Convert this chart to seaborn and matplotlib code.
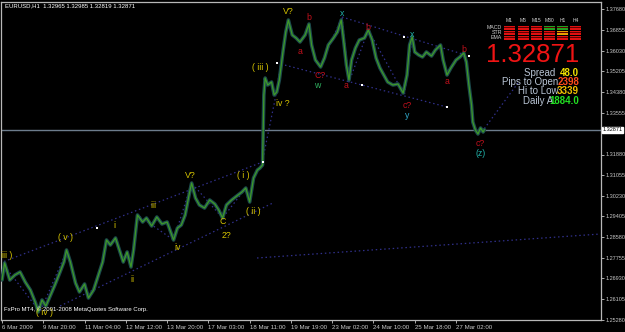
import numpy as np
import pandas as pd
import matplotlib
matplotlib.use("Agg")
import matplotlib.pyplot as plt
import seaborn as sns
from matplotlib.patches import Rectangle

# ---------------- data (bar index, close price) ----------------
bars = [0, 2, 6, 10, 14, 18, 22, 26, 28, 31, 34, 37, 41, 45, 48, 50, 53, 57, 60, 64,
        67, 71, 74, 78, 81, 84, 88, 91, 94, 97, 100, 102, 105, 109, 112, 116, 120, 124, 128, 133,
        136, 139, 142, 145, 147, 150, 153, 157, 161, 165, 168, 171, 174, 178, 182, 186, 189, 192, 195, 198,
        200, 202, 203, 204, 206, 209, 211, 213, 215, 218, 220, 222, 225, 228, 231, 235, 238, 240, 243, 247,
        250, 253, 257, 260, 263, 265, 267, 269, 271, 274, 277, 281, 284, 287, 290, 293, 296, 299, 303, 307,
        311, 314, 316, 318, 320, 323, 326, 329, 333, 336, 340, 342, 345, 348, 352, 355, 358, 360, 362, 364,
        365, 367, 369, 371, 373, 374]
close = [1.2686, 1.2754, 1.2686, 1.2706, 1.2718, 1.2678, 1.2646, 1.2594, 1.2558, 1.2606,
         1.2582, 1.2618, 1.2666, 1.2718, 1.2758, 1.2806, 1.2758, 1.2674, 1.2638, 1.2670,
         1.2614, 1.2646, 1.2694, 1.2758, 1.2846, 1.2826, 1.2854, 1.2806, 1.2758, 1.2798,
         1.2738, 1.2806, 1.2946, 1.2918, 1.2934, 1.2902, 1.2938, 1.2910, 1.2918, 1.2846,
         1.2894, 1.2906, 1.2946, 1.3026, 1.3074, 1.3014, 1.2986, 1.2974, 1.3006, 1.2990,
         1.2966, 1.2934, 1.2986, 1.3006, 1.3022, 1.3038, 1.3054, 1.2998, 1.3094, 1.3126,
         1.3134, 1.3146, 1.3426, 1.3494, 1.3466, 1.3478, 1.3426, 1.3438, 1.3486, 1.3606,
         1.3678, 1.3726, 1.3666, 1.3654, 1.3638, 1.3666, 1.3710, 1.3626, 1.3566, 1.3538,
         1.3574, 1.3626, 1.3654, 1.3678, 1.3726, 1.3638, 1.3546, 1.3486, 1.3566, 1.3614,
         1.3646, 1.3654, 1.3686, 1.3646, 1.3574, 1.3534, 1.3506, 1.3478, 1.3466, 1.3470,
         1.3434, 1.3506, 1.3626, 1.3658, 1.3598, 1.3586, 1.3578, 1.3598, 1.3582, 1.3606,
         1.3626, 1.3566, 1.3506, 1.3534, 1.3566, 1.3578, 1.3594, 1.3558, 1.3466, 1.3386,
         1.3318, 1.3286, 1.3270, 1.3294, 1.3278, 1.32871]

last_price = 1.32871
header_text = "EURUSD,H1  1.32965 1.32985 1.32819 1.32871"

time_tick_bars = [0, 32, 64, 96, 128, 160, 192, 224, 256, 288, 320, 352]
time_tick_labels = ["6 Mar 2009", "9 Mar 20:00", "11 Mar 04:00", "12 Mar 12:00",
                    "13 Mar 20:00", "17 Mar 03:00", "18 Mar 11:00", "19 Mar 19:00",
                    "23 Mar 02:00", "24 Mar 10:00", "25 Mar 18:00", "27 Mar 02:00"]
price_ticks = [1.37680, 1.36855, 1.36030, 1.35205, 1.34380, 1.33555, 1.31880,
               1.31055, 1.30230, 1.29405, 1.28580, 1.27755, 1.26930, 1.26105, 1.25280]
price_tick_labels = ["1.37680", "1.36855", "1.36030", "1.35205", "1.34380", "1.33555",
                     "1.31880", "1.31055", "1.30230", "1.29405", "1.28580", "1.27755",
                     "1.26930", "1.26105", "1.25280"]

# Elliott wave labels
wave_text = ["iii )", "( iv )", "( v )", "i", "ii", "iii", "iv", "V?", "C", "2?", "( i )", "( ii )",
             "( iii )", "iv ?", "V?",
             "a", "b", "C?", "a", "b", "c?", "a", "b", "c?",
             "w", "x", "x", "y", "(z)"]
wave_bar = [4, 33, 49.6, 87, 101, 117, 136, 146, 171, 174, 187, 195,
            200, 218, 222,
            231, 238, 247, 267, 284, 314, 345, 358, 370.5,
            244, 263.5, 318, 314, 371]
wave_price = [1.2786, 1.2554, 1.2854, 1.2902, 1.2690, 1.2982, 1.2814, 1.3102, 1.2918, 1.2866, 1.3102, 1.2962,
              1.3534, 1.3390, 1.3758,
              1.3598, 1.3738, 1.3506, 1.3462, 1.3694, 1.3386, 1.3478, 1.3610, 1.3234,
              1.3466, 1.3750, 1.3666, 1.3346, 1.3194]
YEL, RED, GRN, CYN = "#d6c400", "#c0101c", "#2fb060", "#20b0a8"
wave_color = [YEL] * 15 + [RED] * 9 + [GRN, CYN, CYN, "#30a8c8", CYN]

# white anchor points of trend lines
dot_bar = [73.6, 202, 213, 279, 312, 345, 362]
dot_price = [1.2894, 1.3158, 1.3554, 1.3466, 1.3658, 1.3378, 1.3582]

# dotted trend / wave lines (bar lists, price lists)
line_bars = [
    [-1.5, 202], [45, 210], [197.7, 464], [263.6, 362], [213, 345], [372, 400],
    [246.5, 263.6, 269, 284, 312, 318],
    [201.6, 211.6, 221.7],
    [2, 29.5, 50.4],
    [100, 105, 133, 147, 171, 189],
]
line_prices = [
    [1.2754, 1.3158], [1.2582, 1.2994], [1.2774, 1.2870], [1.3738, 1.3582], [1.3554, 1.3378],
    [1.3278, 1.3474],
    [1.3538, 1.3738, 1.3478, 1.3686, 1.3426, 1.3658],
    [1.3154, 1.3406, 1.3726],
    [1.2742, 1.2558, 1.2806],
    [1.2738, 1.2946, 1.2846, 1.3074, 1.2934, 1.3054],
]

# indicator panel
panel_cols = ["M1", "M5", "M15", "M30", "H1", "H4"]
panel_rows = ["MACD", "STR", "EMA"]
panel_state = [["r", "r", "r", "g", "g", "r"],
               ["r", "r", "r", "r", "o", "r"],
               ["r", "r", "r", "r", "r", "r"]]
stat_names = ["Spread ", "Pips to Open", "Hi to Low", "Daily A"]
stat_values = ["48.0", "2398", "3339", "1884.0"]
stat_colors = ["#f2e200", "#ff4a1a", "#f0c000", "#22e022"]

# ---------------- drawing ----------------
sns.set_theme(style="dark")
plt.rcParams["font.family"] = ["Liberation Sans", "DejaVu Sans"]

W, H = 625, 332
fig = plt.figure(figsize=(W / 100, H / 100), dpi=100, facecolor="black")
ax = fig.add_axes([1.5 / W, 12.5 / H, 599 / W, 318 / H])
ax.set_facecolor("black")

df = pd.DataFrame({"bar": bars, "close": close})
sns.lineplot(data=df, x="bar", y="close", ax=ax, color="#1c4a4c", lw=2.6, zorder=3)
sns.lineplot(data=df, x="bar", y="close", ax=ax, color="#3f9a28", lw=0.9, zorder=4)

ax.axhline(last_price, color="#6c7c8c", lw=1.0, zorder=2)

for lb, lp in zip(line_bars, line_prices):
    ax.plot(lb, lp, ls=(0, (1.2, 2.2)), color="#30308a", lw=0.9, zorder=2)

ax.scatter(dot_bar, dot_price, marker="s", s=3, color="white", zorder=6, linewidths=0)

for t, b, p, c in zip(wave_text, wave_bar, wave_price, wave_color):
    ax.text(b, p, t, color=c, fontsize=6.3, ha="center", va="center", zorder=7)

ax.set_xlim(-0.4, 464)
ax.set_ylim(1.2528, 1.3800)
ax.set_xlabel("")
ax.set_ylabel("")
ax.grid(False)
for s in ax.spines.values():
    s.set_color("#b8b8b8")
    s.set_linewidth(0.9)

ax.yaxis.tick_right()
ax.set_yticks(price_ticks)
ax.set_yticklabels(price_tick_labels)
ax.set_xticks(time_tick_bars)
ax.set_xticklabels(time_tick_labels, ha="left")
ax.tick_params(axis="both", colors="#c8c8c8", labelsize=4.4, length=2.5, width=0.6,
               direction="out", bottom=True, right=True)
ax.tick_params(axis="y", pad=1.0, labelsize=4.0)
ax.tick_params(axis="x", pad=1.5)

# current price box on the axis
ax.text(1.003, last_price, "1.32871", transform=ax.get_yaxis_transform(), fontsize=4.0,
        color="black", ha="left", va="center", zorder=10, clip_on=False,
        bbox=dict(boxstyle="square,pad=0.12", fc="white", ec="white"))


def fx(x):
    return x / W


def fy(y):
    return 1 - y / H


fig.text(fx(5), fy(6), header_text, color="white", fontsize=4.3, ha="left", va="center")
fig.text(fx(4), fy(309), "FxPro MT4, \u00a9 2001-2008 MetaQuotes Software Corp.", color="white",
         fontsize=4.3, ha="left", va="center")

# indicator grid
col_x = [504, 517.5, 530.5, 544, 557, 570]
row_y = [26, 31, 36]
state_color = {"r": "#e01010", "g": "#20a020", "o": "#e8a000"}
for j, name in enumerate(panel_cols):
    fig.text(fx(col_x[j] + 5.5), fy(20.5), name, color="#d0d0d0", fontsize=3.6,
             ha="center", va="center")
for i, rname in enumerate(panel_rows):
    fig.text(fx(502), fy(row_y[i] + 1.8), rname, color="#d0d0d0", fontsize=3.8,
             ha="right", va="center")
    for j in range(len(panel_cols)):
        fig.patches.append(Rectangle((fx(col_x[j]), fy(row_y[i] + 3.6)), 11 / W, 3.6 / H,
                                     transform=fig.transFigure, fc=state_color[panel_state[i][j]],
                                     ec="none"))
        fig.patches.append(Rectangle((fx(col_x[j]), fy(row_y[i] + 2.0)), 11 / W, 0.5 / H,
                                     transform=fig.transFigure, fc="#600000", ec="none"))

fig.text(fx(579), fy(55), "1.32871", color="#f01414", fontsize=18.5, ha="right", va="center")

stat_y = [72.5, 82, 91.5, 100.5]
name_end = [558.5, 558.5, 558.5, 553]
for k in range(4):
    fig.text(fx(name_end[k]), fy(stat_y[k]), stat_names[k], color="#b8c4d4", fontsize=7,
             ha="right", va="center")
    fig.text(fx(579), fy(stat_y[k]), stat_values[k], color=stat_colors[k], fontsize=7,
             ha="right", va="center", weight="bold")

fig.savefig("out.png", dpi=100, facecolor="black")
